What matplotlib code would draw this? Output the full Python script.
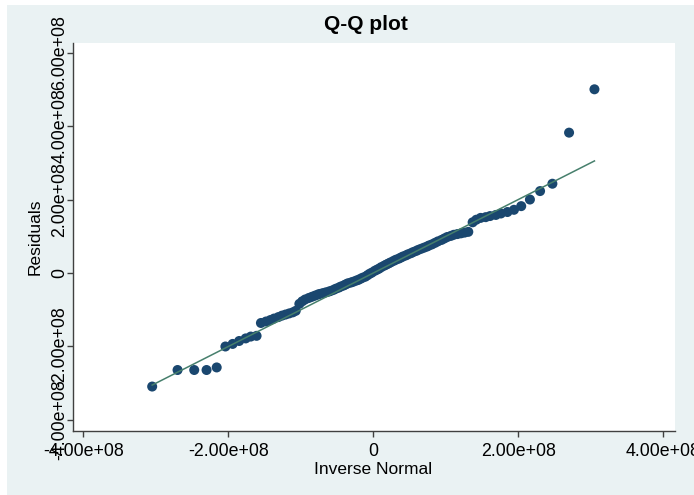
import matplotlib.pyplot as plt
import matplotlib as mpl
from matplotlib.patches import Rectangle
from matplotlib.ticker import FuncFormatter

mpl.rcParams['font.family'] = ['Liberation Sans', 'DejaVu Sans']
mpl.rcParams['font.size'] = 12

# Q-Q plot of the regression residuals (values in units of 1e8)
# x: inverse normal quantiles, y: ordered residuals
normal_q = [-3.05, -2.70, -2.47, -2.30, -2.16, -2.04, -1.94, -1.85, -1.76, -1.69,
            -1.61, -1.55, -1.48, -1.42, -1.37, -1.31, -1.26, -1.21, -1.16, -1.11,
            -1.07, -1.02, -0.98, -0.94, -0.89, -0.85, -0.81, -0.77, -0.74, -0.70,
            -0.66, -0.62, -0.59, -0.55, -0.52, -0.48, -0.45, -0.41, -0.38, -0.35,
            -0.31, -0.28, -0.24, -0.21, -0.18, -0.15, -0.11, -0.08, -0.05, -0.02,
            0.02, 0.05, 0.08, 0.11, 0.15, 0.18, 0.21, 0.24, 0.28, 0.31,
            0.35, 0.38, 0.41, 0.45, 0.48, 0.52, 0.55, 0.59, 0.62, 0.66,
            0.70, 0.74, 0.77, 0.81, 0.85, 0.89, 0.94, 0.98, 1.02, 1.07,
            1.11, 1.16, 1.21, 1.26, 1.31, 1.37, 1.42, 1.48, 1.55, 1.61,
            1.69, 1.76, 1.85, 1.94, 2.04, 2.16, 2.30, 2.47, 2.70, 3.05]

residuals = [-3.09, -2.64, -2.64, -2.64, -2.57, -2.00, -1.93, -1.85, -1.78, -1.73,
             -1.71, -1.36, -1.32, -1.28, -1.24, -1.20, -1.16, -1.13, -1.10, -1.07,
             -1.03, -0.84, -0.77, -0.72, -0.68, -0.65, -0.62, -0.59, -0.57, -0.55,
             -0.53, -0.51, -0.49, -0.46, -0.43, -0.40, -0.37, -0.34, -0.31, -0.28,
             -0.26, -0.24, -0.21, -0.19, -0.16, -0.13, -0.10, -0.06, -0.02, 0.01,
             0.06, 0.09, 0.12, 0.16, 0.20, 0.23, 0.26, 0.29, 0.33, 0.36,
             0.39, 0.42, 0.45, 0.48, 0.51, 0.54, 0.57, 0.60, 0.63, 0.66,
             0.69, 0.72, 0.75, 0.78, 0.82, 0.86, 0.90, 0.94, 0.98, 1.01,
             1.04, 1.06, 1.08, 1.10, 1.12, 1.38, 1.45, 1.50, 1.52, 1.55,
             1.58, 1.62, 1.66, 1.72, 1.82, 2.00, 2.23, 2.43, 3.82, 5.00]

# reference line y = x over the range of the quantiles
ref_line = [-3.05, 3.05]

x_ticks = [-4, -2, 0, 2, 4]
y_ticks = [-4, -2, 0, 2, 4, 6]

scale = 1e8
bg = '#eaf2f3'
navy = '#1a476f'
line_col = '#467f6c'
axis_col = '#404040'

fig = plt.figure(figsize=(6.94, 4.95), dpi=100)
# graph region background (thin white margin on top and left)
fig.patches.append(Rectangle((7 / 694, 0), 1 - 7 / 694, 490 / 495,
                             transform=fig.transFigure, facecolor=bg,
                             edgecolor='none', zorder=-10))

ax = fig.add_axes([73 / 694, 1 - 431 / 495, (675 - 73) / 694, (431 - 43) / 495])
ax.set_facecolor('white')

ax.plot([v * scale for v in ref_line], [v * scale for v in ref_line],
        color=line_col, linewidth=1.1, zorder=3)
ax.scatter([v * scale for v in normal_q], [v * scale for v in residuals],
           s=52, color=navy, edgecolors='none', zorder=2)

ax.set_xlim(-4.142 * scale, 4.161 * scale)
ax.set_ylim(-4.30 * scale, 6.26 * scale)
ax.set_xticks([t * scale for t in x_ticks])
ax.set_yticks([t * scale for t in y_ticks])

def sci_fmt(v, pos):
    if v == 0:
        return '0'
    return f'{v:.2e}'

ax.xaxis.set_major_formatter(FuncFormatter(sci_fmt))
ax.yaxis.set_major_formatter(FuncFormatter(sci_fmt))

for side in ['top', 'right']:
    ax.spines[side].set_visible(False)
for side in ['left', 'bottom']:
    ax.spines[side].set_color(axis_col)
    ax.spines[side].set_linewidth(1.0)

ax.tick_params(axis='both', direction='out', length=4.5, width=1.0,
               color=axis_col, labelsize=12.8, labelcolor='black')
ax.tick_params(axis='x', pad=4)
ax.tick_params(axis='y', pad=5)
for lab in ax.get_yticklabels():
    lab.set_rotation(90)
    lab.set_va('center')
    lab.set_ha('center')

fig.text(366 / 694, 1 - 30 / 495, 'Q-Q plot', ha='center', va='baseline',
         fontsize=15, fontweight='bold')
fig.text(373 / 694, 1 - 474 / 495, 'Inverse Normal', ha='center',
         va='baseline', fontsize=12.5)
fig.text(35 / 694, 1 - 237 / 495, 'Residuals', ha='center', va='center',
         rotation=90, fontsize=12.5)

fig.savefig('out.png', dpi=100, facecolor='white')
